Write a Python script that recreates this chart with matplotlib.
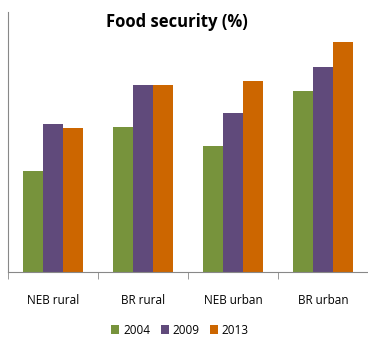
import numpy as np
import matplotlib.pyplot as plt

categories = ["NEB rural", "BR rural", "NEB urban", "BR urban"]
years = ["2004", "2009", "2013"]
vals_2004 = [39.0, 55.8, 48.5, 69.5]
vals_2009 = [56.9, 72.0, 61.0, 78.7]
vals_2013 = [55.4, 72.0, 73.5, 88.6]
colors = ["#77933C", "#604A7B", "#CC6600"]

plt.rcParams['font.family'] = ['Open Sans', 'DejaVu Sans']

fig = plt.figure(figsize=(3.68, 3.40), dpi=100)
ax = fig.add_axes([8 / 368, 0.2, 1 - 8 / 368, 0.765])

x = np.arange(len(categories))
w = 0.222
for i, (vals, lab) in enumerate(zip([vals_2004, vals_2009, vals_2013], years)):
    ax.bar(x + (i - 1) * w, vals, w, color=colors[i], label=lab)

ax.set_xlim(-0.5, len(categories) - 0.5)
ax.set_ylim(0, 100)
ax.set_yticks([])
ax.set_xticks(x)
ax.set_xticklabels(categories, fontsize=8.5)
ax.tick_params(axis='x', length=0, pad=16)
# category boundary ticks
ax.set_xticks(np.arange(-0.5, len(categories)), minor=True)
ax.tick_params(axis='x', which='minor', length=5, color='#888888')

for s in ['top', 'right']:
    ax.spines[s].set_visible(False)
ax.spines['left'].set_color('#888888')
ax.spines['bottom'].set_color('#888888')

fig.text(177 / 368, 1 - 22 / 340, "Food security (%)", fontsize=12,
         fontweight='bold', ha='center', va='center')

fig.legend(loc='center', bbox_to_anchor=(180 / 368, 1 - 330 / 340), ncol=3,
           frameon=False, fontsize=8.5, handlelength=0.7, handleheight=0.7,
           handletextpad=0.3, columnspacing=0.9)

fig.savefig("out.png", dpi=100)
